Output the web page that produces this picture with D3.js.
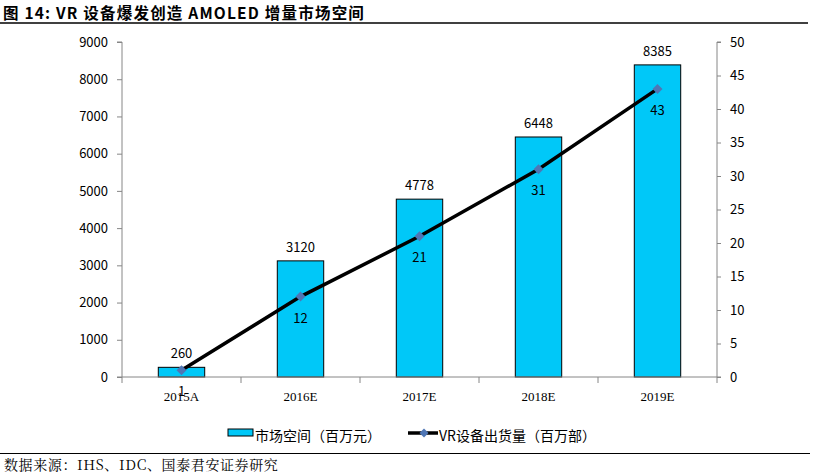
<!DOCTYPE html>
<html><head><meta charset="utf-8">
<script src="https://cdn.jsdelivr.net/npm/d3@7"></script>
<style>
body{margin:0;background:#fff;}
svg{display:block;}
</style></head>
<body>
<svg id="c" width="822" height="476"></svg>
<script>
const categories = ["2015A","2016E","2017E","2018E","2019E"];
const marketValues = [260,3120,4778,6448,8385];
const shipmentValues = [1,12,21,31,43];
const leftTicks = [0,1000,2000,3000,4000,5000,6000,7000,8000,9000];
const rightTicks = [0,5,10,15,20,25,30,35,40,45,50];
const titleText = "图 14: VR 设备爆发创造 AMOLED 增量市场空间";
const sourceText = "数据来源：IHS、IDC、国泰君安证券研究";
const legendBar = "市场空间（百万元）";
const legendLine = "VR设备出货量（百万部）";

const svg = d3.select("#c");
const sans = "'Noto Sans CJK SC', 'Noto Sans', sans-serif";
const serif = "'Liberation Serif', 'DejaVu Serif', serif";
const axisColor = "#868686";

// title
svg.append("text").attr("x",3).attr("y",18.5).attr("font-family",sans).attr("font-weight","bold")
  .attr("font-size",15.5).attr("letter-spacing",1.2).attr("fill","#000").text(titleText);
svg.append("line").attr("x1",0).attr("x2",808).attr("y1",23).attr("y2",23).attr("stroke","#000").attr("stroke-width",1.5);

const x0 = 122, x1 = 717, yTop = 42, yBot = 377;
const x = d3.scaleBand().domain(categories).range([x0,x1]).paddingInner(0.61).paddingOuter(0.305);
const band = d3.scaleBand().domain(categories).range([x0,x1]);
const yL = d3.scaleLinear().domain([0,9000]).range([yBot,yTop]);
const yR = d3.scaleLinear().domain([0,50]).range([yBot,yTop]);

// left axis
const gL = svg.append("g").attr("transform",`translate(${x0},0)`)
  .call(d3.axisLeft(yL).tickValues(leftTicks).tickSize(5).tickPadding(9).tickFormat(d3.format("d")));
gL.select(".domain").attr("stroke",axisColor).attr("d",`M-5,${yTop}H0V${yBot}H-5`);
gL.selectAll(".tick line").attr("stroke",axisColor);
gL.selectAll(".tick text").attr("font-family",sans).attr("font-size",13).attr("fill","#000");

// right axis
const gR = svg.append("g").attr("transform",`translate(${x1},0)`)
  .call(d3.axisRight(yR).tickValues(rightTicks).tickSize(4).tickPadding(9));
gR.select(".domain").attr("stroke",axisColor).attr("d",`M4,${yTop}H0V${yBot}H4`);
gR.selectAll(".tick line").attr("stroke",axisColor);
gR.selectAll(".tick text").attr("font-family",sans).attr("font-size",13).attr("fill","#000");

// bars
svg.append("g").selectAll("rect").data(categories).join("rect")
  .attr("x",d=>x(d)).attr("width",x.bandwidth())
  .attr("y",(d,i)=>yL(marketValues[i])).attr("height",(d,i)=>yBot-yL(marketValues[i]))
  .attr("fill","#00C8F8").attr("stroke","#000").attr("stroke-width",1);

// x axis
const gX = svg.append("g").attr("transform",`translate(0,${yBot})`);
gX.append("line").attr("x1",x0).attr("x2",x1).attr("y1",0).attr("y2",0).attr("stroke",axisColor);
const boundaries = categories.map(c=>band(c)).concat([x1]);
gX.selectAll("line.t").data(boundaries).join("line").attr("class","t")
  .attr("x1",d=>d).attr("x2",d=>d).attr("y1",0).attr("y2",6).attr("stroke",axisColor);
gX.selectAll("text").data(categories).join("text")
  .attr("x",d=>band(d)+band.bandwidth()/2).attr("y",24).attr("text-anchor","middle")
  .attr("font-family",serif).attr("font-size",13).attr("fill","#000").text(d=>d);

// bar labels
svg.append("g").selectAll("text").data(categories).join("text")
  .attr("x",d=>x(d)+x.bandwidth()/2).attr("y",(d,i)=>yL(marketValues[i])-9)
  .attr("text-anchor","middle").attr("font-family",sans).attr("font-size",13).attr("fill","#000")
  .text((d,i)=>marketValues[i]);

// line
const cx = d=>band(d)+band.bandwidth()/2;
const line = d3.line().x((d,i)=>cx(categories[i])).y(d=>yR(d));
svg.append("path").datum(shipmentValues).attr("d",line).attr("fill","none").attr("stroke","#000").attr("stroke-width",3.5);
svg.append("g").selectAll("path").data(shipmentValues).join("path")
  .attr("d",d3.symbol().type(d3.symbolSquare).size(50))
  .attr("transform",(d,i)=>`translate(${cx(categories[i])},${yR(d)}) rotate(45)`)
  .attr("fill","#4F76B5");
svg.append("g").selectAll("text").data(shipmentValues).join("text")
  .attr("x",(d,i)=>cx(categories[i])).attr("y",d=>yR(d)+26).attr("text-anchor","middle")
  .attr("font-family",sans).attr("font-size",13).attr("fill","#000").text(d=>d);

// legend
const lg = svg.append("g");
lg.append("rect").attr("x",228).attr("y",429).attr("width",25).attr("height",7).attr("fill","#00C8F8").attr("stroke","#000").attr("stroke-width",1);
lg.append("text").attr("x",255).attr("y",441).attr("font-family",sans).attr("font-size",14).attr("fill","#000").text(legendBar);
lg.append("line").attr("x1",408).attr("x2",438).attr("y1",433).attr("y2",433).attr("stroke","#000").attr("stroke-width",3.5);
lg.append("path").attr("d",d3.symbol().type(d3.symbolSquare).size(40)).attr("transform","translate(424,433) rotate(45)").attr("fill","#4F76B5");
lg.append("text").attr("x",439).attr("y",441).attr("font-family",sans).attr("font-size",14).attr("fill","#000").text(legendLine);

// source
svg.append("line").attr("x1",0).attr("x2",810).attr("y1",453.5).attr("y2",453.5).attr("stroke","#000").attr("stroke-width",1.2);
svg.append("text").attr("x",4).attr("y",470).attr("font-family","'Noto Serif CJK SC', 'Noto Sans CJK SC', serif").attr("font-size",14).attr("letter-spacing",0.6).attr("fill","#000").text(sourceText);
</script>
</body></html>
